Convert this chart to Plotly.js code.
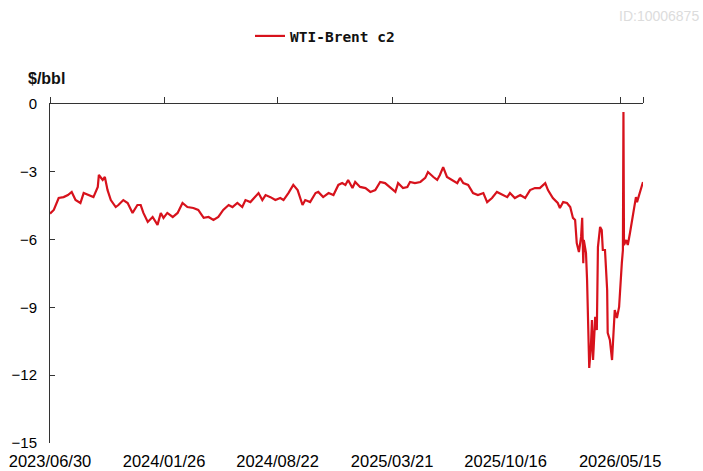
<!DOCTYPE html>
<html>
<head>
<meta charset="utf-8">
<script src="https://cdn.plot.ly/plotly-3.0.1.min.js"></script>
<style>html,body{margin:0;padding:0;background:#fff;}#chart{width:703px;height:471px;}</style>
</head>
<body>
<div id="chart"></div>
<script>
const dates = [
'2023-06-30','2023-07-01','2023-07-07','2023-07-16','2023-07-25','2023-08-02','2023-08-09','2023-08-16','2023-08-25','2023-08-31',
'2023-09-09','2023-09-18','2023-09-26','2023-09-28','2023-10-05','2023-10-09','2023-10-14','2023-10-20','2023-10-29','2023-11-03',
'2023-11-12','2023-11-20','2023-11-29','2023-12-08','2023-12-14','2023-12-19','2023-12-27','2024-01-05','2024-01-14','2024-01-20',
'2024-01-25','2024-02-01','2024-02-11','2024-02-20','2024-02-29','2024-03-09','2024-03-20','2024-03-29','2024-04-08','2024-04-17',
'2024-04-26','2024-05-05','2024-05-14','2024-05-24','2024-05-31','2024-06-09','2024-06-18','2024-06-24','2024-07-03','2024-07-09',
'2024-07-18','2024-07-25','2024-07-31','2024-08-09','2024-08-18','2024-08-27','2024-09-02','2024-09-11','2024-09-20','2024-09-28',
'2024-10-07','2024-10-12','2024-10-21','2024-10-31','2024-11-05','2024-11-14','2024-11-24','2024-12-03','2024-12-12','2024-12-19',
'2024-12-25','2024-12-30','2025-01-07','2025-01-12','2025-01-21','2025-01-31','2025-02-09','2025-02-18','2025-02-27','2025-03-08',
'2025-03-18','2025-03-27','2025-04-01','2025-04-10','2025-04-18','2025-04-23','2025-05-02','2025-05-12','2025-05-21','2025-05-26',
'2025-06-05','2025-06-12','2025-06-17','2025-06-23','2025-06-30','2025-07-10','2025-07-19','2025-07-24','2025-07-30','2025-08-08',
'2025-08-17','2025-08-26','2025-09-05','2025-09-12','2025-09-21','2025-09-30','2025-10-10','2025-10-19','2025-10-24','2025-11-02',
'2025-11-12','2025-11-21','2025-11-30','2025-12-09','2025-12-18','2025-12-28','2026-01-02','2026-01-11','2026-01-20','2026-01-24',
'2026-01-30','2026-02-06','2026-02-12','2026-02-17','2026-02-21','2026-02-24','2026-02-28','2026-03-04','2026-03-06','2026-03-08',
'2026-03-09','2026-03-13','2026-03-15','2026-03-17','2026-03-19','2026-03-22','2026-03-24','2026-03-26','2026-03-30','2026-04-02',
'2026-04-04','2026-04-08','2026-04-11','2026-04-13','2026-04-17','2026-04-21','2026-04-22','2026-04-26','2026-04-30','2026-05-02',
'2026-05-05','2026-05-09','2026-05-13','2026-05-18','2026-05-20','2026-05-21','2026-05-22','2026-05-26','2026-05-29','2026-06-02',
'2026-06-07','2026-06-13','2026-06-15','2026-06-19','2026-06-24','2026-06-26'
];
const spread = [
-4.85,-4.82,-4.69,-4.16,-4.12,-4.03,-3.89,-4.25,-4.38,-3.94,
-4.03,-4.12,-3.67,-3.14,-3.36,-3.23,-3.81,-4.25,-4.56,-4.47,
-4.25,-4.38,-4.82,-4.47,-4.47,-4.82,-5.22,-5.00,-5.35,-4.82,
-5.04,-4.82,-5.00,-4.82,-4.38,-4.56,-4.60,-4.69,-5.04,-5.00,
-5.13,-5.00,-4.69,-4.47,-4.56,-4.38,-4.56,-4.25,-4.34,-4.16,
-3.94,-4.25,-4.03,-4.12,-4.25,-4.16,-4.25,-3.94,-3.58,-3.81,
-4.47,-4.25,-4.34,-3.94,-3.89,-4.12,-3.94,-4.03,-3.58,-3.50,
-3.58,-3.36,-3.72,-3.45,-3.67,-3.72,-3.89,-3.81,-3.45,-3.50,
-3.72,-3.89,-3.50,-3.72,-3.67,-3.45,-3.50,-3.45,-3.27,-3.01,
-3.23,-3.36,-3.14,-2.79,-3.23,-3.36,-3.50,-3.27,-3.50,-3.58,
-3.94,-4.03,-3.94,-4.34,-4.16,-3.89,-4.03,-4.12,-3.94,-4.16,
-4.03,-4.16,-3.81,-3.72,-3.72,-3.50,-3.81,-4.16,-4.38,-4.60,
-4.34,-4.38,-4.56,-5.04,-5.13,-6.15,-6.55,-5.88,-5.04,-7.04,
-6.02,-6.59,-7.79,-10.31,-11.68,-10.75,-9.56,-11.33,-9.42,-10.00,
-6.33,-5.44,-5.58,-6.46,-6.46,-8.23,-10.13,-10.44,-11.33,-10.44,
-9.12,-9.47,-8.98,-7.04,-6.46,-0.35,-6.24,-6.02,-6.24,-5.71,
-5.00,-4.12,-4.34,-4.03,-3.58,-3.45
];
const xTickVals = ['2023-06-30','2024-01-26','2024-08-22','2025-03-21','2025-10-16','2026-05-15'];
const xTickText = ['2023/06/30','2024/01/26','2024/08/22','2025/03/21','2025/10/16','2026/05/15'];
const xEnd = '2026-06-26';
const yTickVals = [0,-3,-6,-9,-12,-15];
const yTickText = ['0','\u22123','\u22126','\u22129','\u221212','\u221215'];
const seriesName = 'WTI-Brent c2';

const xTickFont = {family:'Liberation Sans, Arial, sans-serif', size:16.5, color:'#000'};
const yTickFont = {family:'Liberation Sans, Arial, sans-serif', size:15, color:'#000'};

const data = [
  {x: dates, y: spread, type:'scatter', mode:'lines', name: seriesName,
   line:{color:'#d7121c', width:2.2}},
  // empty helper trace so the top (tick-only) date axis is drawn
  {x: [dates[0], xEnd], y: [null, null], xaxis:'x2', yaxis:'y', type:'scatter', mode:'lines',
   showlegend:false, hoverinfo:'skip'}
];

const layout = {
  width:703, height:471,
  margin:{l:50, r:60, t:104, b:28, pad:0},
  paper_bgcolor:'#fff', plot_bgcolor:'#fff',
  showlegend:true,
  legend:{orientation:'h', xref:'container', yref:'container', x:250/703, y:1-20/471, xanchor:'left', yanchor:'top',
    font:{family:'DejaVu Sans Mono, Liberation Mono, monospace', size:14.5, color:'#111', weight:'bold'}},
  xaxis:{type:'date', range:[dates[0], xEnd], tickvals:xTickVals, ticktext:xTickText,
    showline:false, ticks:'', showgrid:false, zeroline:false, tickfont:xTickFont, ticklabelstandoff:6},
  xaxis2:{type:'date', overlaying:'x', side:'top', anchor:'y', range:[dates[0], xEnd],
    tickvals:xTickVals.concat([xEnd]), showticklabels:false, ticks:'outside', ticklen:6, tickcolor:'#333',
    showline:true, linecolor:'#333', linewidth:1, showgrid:false, zeroline:false},
  yaxis:{range:[-15,0], tickvals:yTickVals, ticktext:yTickText, ticks:'inside', ticklen:5, tickcolor:'#333',
    showline:true, linecolor:'#333', linewidth:1, showgrid:false, zeroline:false, tickfont:yTickFont, ticklabelstandoff:9},
  annotations:[
    {text:'<b>$/bbl</b>', xref:'paper', yref:'paper', x:(26-50)/593, y:(443-78)/339, xanchor:'left', yanchor:'middle',
      showarrow:false, font:{family:'Liberation Sans, Arial, sans-serif', size:16, color:'#111'}},
    {text:'ID:10006875', xref:'paper', yref:'paper', x:(701-50)/593, y:(443-16)/339, xanchor:'right', yanchor:'middle',
      showarrow:false, font:{family:'Liberation Sans, Arial, sans-serif', size:14, color:'#dcdcdc'}}
  ]
};

Plotly.newPlot('chart', data, layout, {displayModeBar:false, staticPlot:true});
</script>
</body>
</html>
